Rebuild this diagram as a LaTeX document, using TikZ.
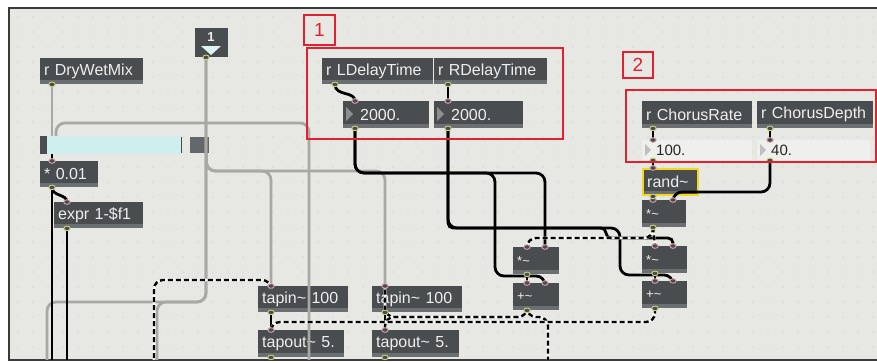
\documentclass[tikz,border=0pt]{standalone}
\usepackage{fontspec}
\setmainfont{Liberation Sans}
\usetikzlibrary{calc}

\definecolor{patchbg}{HTML}{E7E7E3}
\definecolor{griddot}{HTML}{D9D9D3}
\definecolor{framecol}{HTML}{3A3A3A}
\definecolor{boxgray}{HTML}{4A4D50}
\definecolor{boxstrip}{HTML}{6C6F72}
\definecolor{boxtext}{HTML}{EEEEEE}
\definecolor{cordgray}{HTML}{A8A8A4}
\definecolor{markred}{HTML}{E2202E}
\definecolor{slidecyan}{HTML}{CFEFEE}
\definecolor{numlight}{HTML}{EFEFED}
\definecolor{numtri}{HTML}{8C8F92}
\definecolor{randyellow}{HTML}{F3D81E}
\definecolor{inletpink}{HTML}{D9A3B2}
\definecolor{outletgreen}{HTML}{C8D17A}

\tikzset{
  maxbox/.style={anchor=north west,fill=boxgray,text=boxtext,font=\fontsize{16}{18}\selectfont,
    inner xsep=4pt,inner ysep=0pt,minimum height=26pt,align=left,
    path picture={\fill[boxstrip] (path picture bounding box.south west) rectangle ([yshift=4pt]path picture bounding box.south east);}},
  sigbox/.style={maxbox,font=\fontsize{13}{14}\selectfont,minimum height=27pt},
  lightnum/.style={anchor=north west,fill=numlight,text=black!85,font=\fontsize{15}{16}\selectfont,
    inner xsep=4pt,inner ysep=0pt,minimum height=20pt,align=left},
  cord/.style={draw=cordgray,line width=2.8pt},
  wire/.style={draw=black,line width=2.8pt},
  sig/.style={draw=black,line width=2.4pt,dash pattern=on 5pt off 3pt,
    preaction={draw=white!70!patchbg,line width=2.8pt,solid}},
  redtag/.style={anchor=north west,draw=markred,line width=1.6pt,text=markred,
    font=\fontsize{19}{20}\selectfont,inner sep=0pt},
  inport/.style={draw=inletpink,line width=0.9pt,fill=boxgray},
  outport/.style={draw=outletgreen,line width=0.9pt,fill=boxgray}
}

\begin{document}
\begin{tikzpicture}[x=1pt,y=-1pt]
  \useasboundingbox (0,0) rectangle (877,362);
  \fill[white] (0,0) rectangle (877,362);
  \fill[patchbg] (9,8) rectangle (877,360);
  \foreach \gx in {18,33,...,873} {
    \foreach \gy in {17,32,...,352} {\fill[griddot] (\gx,\gy) circle (0.8);}
  }
  \draw[framecol,line width=1.5pt] (877,8) -- (9,8) -- (9,360) -- (877,360);

  % left column
  \node[maxbox,text width=95pt] (dry) at (40,58) {r DryWetMix};
  \node[anchor=north west,fill=boxgray,minimum width=33pt,minimum height=29pt,inner sep=0pt] (one) at (195,28) {};
  \node[text=boxtext,font=\fontsize{13}{14}\selectfont\bfseries] (onetext) at (211,37) {1};
  \fill[slidecyan!70!white] (201,46) -- (221,46) -- (211,55) -- cycle;
  \node[anchor=north west,fill=slidecyan,minimum width=142pt,minimum height=18pt,inner sep=0pt] (slider) at (40,136) {};
  \fill[boxgray] (40,136) rectangle (47,154);
  \draw[boxgray,line width=1pt] (181,137) -- (181,153);
  \node[anchor=north west,fill=boxgray!85!white,minimum width=19pt,minimum height=16pt,inner sep=0pt] (slblock) at (190,137) {};
  \node[maxbox,text width=50pt] (mul) at (40,161) {* 0.01};
  \node[maxbox,text width=81pt] (expr) at (54,202) {expr 1-\$f1};

  % delay times
  \node[maxbox,text width=103pt] (ldel) at (322,58) {r LDelayTime};
  \node[maxbox,text width=105pt] (rdel) at (434,58) {r RDelayTime};
  \node[maxbox,text width=78pt,minimum height=27pt] (lnum) at (343,101) {\hspace*{13pt}2000.};
  \node[maxbox,text width=81pt,minimum height=27pt] (rnum) at (434,101) {\hspace*{13pt}2000.};
  \fill[numtri] (346,107) -- (353,114) -- (346,121) -- cycle;
  \fill[numtri] (437,107) -- (444,114) -- (437,121) -- cycle;

  % chorus
  \node[maxbox,text width=102pt,minimum height=27pt] (crate) at (642,101) {r ChorusRate};
  \node[maxbox,text width=108pt,minimum height=27pt] (cdepth) at (757,101) {r ChorusDepth};
  \node[lightnum,text width=102pt] (ratenum) at (642,140) {\hspace*{10pt}100.};
  \node[lightnum,text width=105pt] (depthnum) at (757,140) {\hspace*{10pt}40.};
  \fill[black!25] (645,144) -- (651,150) -- (645,156) -- cycle;
  \fill[black!25] (760,144) -- (766,150) -- (760,156) -- cycle;
  \node[maxbox,text width=47pt,draw=randyellow,line width=2.4pt] (rand) at (642,168) {rand\textasciitilde};
  \node[sigbox,text width=36pt] (mulA) at (642,200) {*\textasciitilde};
  \node[sigbox,text width=38pt] (mulL) at (513,247) {*\textasciitilde};
  \node[sigbox,text width=38pt] (addL) at (513,283) {+\textasciitilde};
  \node[sigbox,text width=37pt] (mulR) at (642,246) {*\textasciitilde};
  \node[sigbox,text width=37pt] (addR) at (642,281) {+\textasciitilde};

  % taps
  \node[maxbox,text width=82pt] (tinL) at (258,286) {tapin\textasciitilde{} 100};
  \node[maxbox,text width=78pt,minimum height=27pt] (toutL) at (258,330) {tapout\textasciitilde{} 5.};
  \node[maxbox,text width=82pt] (tinR) at (372,286) {tapin\textasciitilde{} 100};
  \node[maxbox,text width=79pt,minimum height=27pt] (toutR) at (372,330) {tapout\textasciitilde{} 5.};

  % ports
  \coordinate (dry-o) at ($(dry.south west)+(12,0)$);
  \coordinate (one-o) at ($(one.south west)+(11,0)$);
  \coordinate (slider-i) at ($(slider.north west)+(12,0)$);
  \coordinate (slider-j) at ($(slider.north west)+(16,0)$);
  \coordinate (slider-o) at ($(slider.south west)+(12,0)$);
  \coordinate (slblock-o) at ($(slblock.south east)+(-3,0)$);
  \coordinate (mul-i) at ($(mul.north west)+(12,0)$);
  \coordinate (mul-o) at ($(mul.south west)+(12,0)$);
  \coordinate (expr-i) at ($(expr.north west)+(13,0)$);
  \coordinate (expr-o) at ($(expr.south west)+(13,0)$);
  \coordinate (ldel-o) at ($(ldel.south west)+(13,0)$);
  \coordinate (rdel-o) at ($(rdel.south west)+(14,0)$);
  \coordinate (lnum-i) at ($(lnum.north west)+(12,0)$);
  \coordinate (lnum-o) at ($(lnum.south west)+(12,0)$);
  \coordinate (rnum-i) at ($(rnum.north west)+(14,0)$);
  \coordinate (rnum-o) at ($(rnum.south west)+(14,0)$);
  \coordinate (crate-o) at ($(crate.south west)+(11,0)$);
  \coordinate (cdepth-o) at ($(cdepth.south west)+(13,0)$);
  \coordinate (ratenum-i) at ($(ratenum.north west)+(11,0)$);
  \coordinate (ratenum-o) at ($(ratenum.south west)+(11,0)$);
  \coordinate (depthnum-i) at ($(depthnum.north west)+(13,0)$);
  \coordinate (depthnum-o) at ($(depthnum.south west)+(13,0)$);
  \coordinate (rand-i) at ($(rand.north west)+(11,0)$);
  \coordinate (rand-o) at ($(rand.south west)+(11,0)$);
  \coordinate (mulA-i) at ($(mulA.north west)+(11,0)$);
  \coordinate (mulA-j) at ($(mulA.north west)+(31,0)$);
  \coordinate (mulA-o) at ($(mulA.south west)+(11,0)$);
  \coordinate (mulL-i) at ($(mulL.north west)+(14,0)$);
  \coordinate (mulL-j) at ($(mulL.north west)+(32,0)$);
  \coordinate (mulL-o) at ($(mulL.south west)+(14,0)$);
  \coordinate (addL-i) at ($(addL.north west)+(14,0)$);
  \coordinate (addL-j) at ($(addL.north west)+(32,0)$);
  \coordinate (addL-o) at ($(addL.south west)+(14,0)$);
  \coordinate (mulR-i) at ($(mulR.north west)+(13,0)$);
  \coordinate (mulR-j) at ($(mulR.north west)+(31,0)$);
  \coordinate (mulR-o) at ($(mulR.south west)+(13,0)$);
  \coordinate (addR-i) at ($(addR.north west)+(13,0)$);
  \coordinate (addR-j) at ($(addR.north west)+(31,0)$);
  \coordinate (addR-o) at ($(addR.south west)+(13,0)$);
  \coordinate (tinL-i) at ($(tinL.north west)+(13,0)$);
  \coordinate (tinL-o) at ($(tinL.south west)+(13,0)$);
  \coordinate (toutL-i) at ($(toutL.north west)+(13,0)$);
  \coordinate (toutL-o) at ($(toutL.south west)+(13,0)$);
  \coordinate (tinR-i) at ($(tinR.north west)+(13,0)$);
  \coordinate (tinR-o) at ($(tinR.south west)+(13,0)$);
  \coordinate (toutR-i) at ($(toutR.north west)+(13,0)$);
  \coordinate (toutR-o) at ($(toutR.south west)+(13,0)$);

  \begin{scope}
    \clip (10,9) rectangle (877,359);
    \begin{scope}[rounded corners=9pt]
      % gray cords
      \draw[cord] (dry-o) -- (slider-i);
      \draw[cord] (slider-j) |- (309,123) -- (309,366);
      \draw[cord] (one-o) |- (47,302) -- (47,366);
      \draw[cord] (one-o) |- (157,302) -- (157,366);
      \draw[cord] (slblock-o) |- (271,171) -- (tinL-i);
      \draw[cord] (slblock-o) |- (385,171) -- (tinR-i);
      % black cords
      \draw[wire] (slider-o) -- (mul-i);
      \draw[wire] (mul-o) -- (52,366);
      \draw[wire] (mul-o) .. controls +(0,9) and +(0,-8) .. (expr-i);
      \draw[wire] (expr-o) -- (67,366);
      \draw[wire] (ldel-o) .. controls +(0,12) and +(0,-10) .. (lnum-i);
      \draw[wire] (rdel-o) -- (rnum-i);
      \draw[wire] (lnum-o) |- (545,173) -- (mulL-j);
      \draw[wire] (lnum-o) |- (495,173) |- (545,276) -- (addL-j);
      \draw[wire] (rnum-o) |- (620,228) |- (673,275) -- (addR-j);
      \draw[wire,rounded corners=5pt] (rnum-o) |- (606,228) |- (673,238) -- (mulR-j);
      \draw[wire] (depthnum-o) |- (673,192) -- (mulA-j);
      \draw[wire] (crate-o) -- (ratenum-i);
      \draw[wire] (ratenum-o) -- (rand-i);
      \draw[wire] (rand-o) -- (mulA-i);
      \draw[wire] (cdepth-o) -- (depthnum-i);
      \draw[wire] (mulL-o) -- (addL-i);
      \draw[wire] (mulR-o) -- (addR-i);
      \draw[wire] (tinL-o) -- (toutL-i);
      \draw[wire] (tinR-o) -- (toutR-i);
      % signal cords
      \draw[sig] (mulA-o) |- (527,238) -- (mulL-i);
      \draw[sig] (mulA-o) -- (mulR-i);
      \draw[sig] (addL-o) |- (385,317) -- (tinR-i);
      \draw[sig] (addL-o) |- (385,317) -- (toutR-i);
      \draw[sig] (addL-o) |- (548,317) -- (548,366);
      \draw[sig] (addR-o) |- (271,322) -- (toutL-i);
      \draw[sig] (154,366) |- (271,280) -- (tinL-i);
    \end{scope}
  \end{scope}

  \foreach \p in {mul-i,expr-i,lnum-i,rnum-i,ratenum-i,depthnum-i,rand-i,mulA-i,mulA-j,mulL-i,mulL-j,addL-i,addL-j,mulR-i,mulR-j,addR-i,addR-j,tinL-i,toutL-i,tinR-i,toutR-i}
    \draw[inport] (\p) ellipse (3.2 and 2.3);
  \foreach \p in {dry-o,one-o,mul-o,expr-o,ldel-o,rdel-o,lnum-o,rnum-o,crate-o,cdepth-o,ratenum-o,depthnum-o,rand-o,mulA-o,mulL-o,addL-o,mulR-o,addR-o,tinL-o,toutL-o,tinR-o,toutR-o}
    \draw[outport] (\p) ellipse (3.2 and 2.3);

  % red marks
  \draw[markred,line width=2pt] (307,48) rectangle (563,139);
  \draw[markred,line width=2pt] (626,90) rectangle (876,162);
  \node[redtag,minimum width=31pt,minimum height=30pt] (tag1) at (303,14) {1};
  \node[redtag,minimum width=30pt,minimum height=26pt] (tag2) at (622,51) {2};
\end{tikzpicture}
\end{document}
